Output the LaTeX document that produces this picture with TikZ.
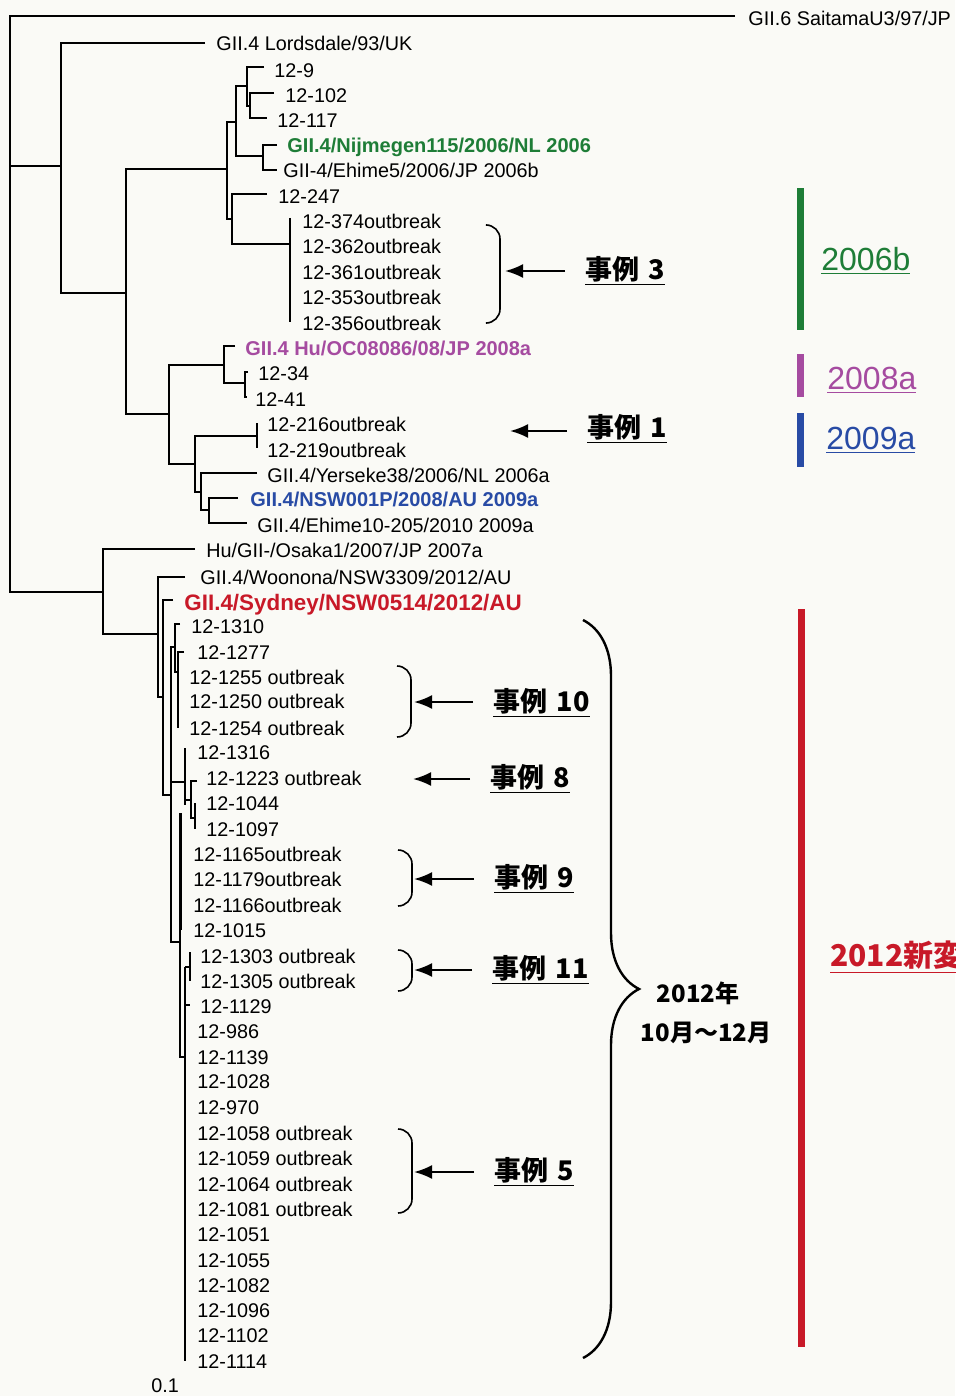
\documentclass[tikz,border=0pt]{standalone}
\usepackage{fontspec}
\setmainfont{Liberation Sans}
\newfontfamily\jpfont{Noto Sans CJK JP}
\usetikzlibrary{arrows.meta,decorations.pathreplacing}

\definecolor{paper}{RGB}{250,250,246}
\definecolor{cladegreen}{RGB}{30,125,55}
\definecolor{cladepurple}{RGB}{165,75,160}
\definecolor{cladeblue}{RGB}{40,75,165}
\definecolor{cladered}{RGB}{200,25,40}

\tikzset{
    leaf/.style = {anchor=west, inner sep=0pt, text height=7.1pt, text depth=0pt,
                   font=\fontsize{9.9}{11}\selectfont},
    refleaf/.style = {leaf, font=\fontsize{10}{11}\selectfont\bfseries},
    branch/.style = {line width=0.6pt},
    bracket/.style = {line width=0.8pt, rounded corners=7pt},
    casearrow/.style = {line width=1.1pt, shorten <=10pt, -{Latex[length=9pt,width=7pt]}},
    casetext/.style = {anchor=west, inner sep=0pt, font=\jpfont\fontsize{13.5}{16}\selectfont\bfseries},
    cladetext/.style = {anchor=west, inner sep=0pt, font=\fontsize{16}{18}\selectfont},
}

\begin{document}
\begin{tikzpicture}[x=0.5pt, y=-0.5pt]
    \fill[paper] (0,0) rectangle (955,1396);
    \useasboundingbox (0,0) rectangle (955,1396);

    % upper part of the tree
    \draw[branch] (735,16) -| (10,592) -- (103,592);
    \draw[branch] (10,166) -- (61,166);
    \draw[branch] (205,43) -| (61,293) -- (126,293);
    \draw[branch] (227,169) -| (126,414) -- (169,414);
    \draw[branch] (236,122) -| (227,219) -- (232,219);
    \draw[branch] (247,86) -| (236,156) -- (263,156);
    \draw[branch] (264,67) -| (247,106) -- (250,106);
    \draw[branch] (274,93) -| (250,118) -- (267,118);
    \draw[branch] (277,145) -| (263,170) -- (277,170);
    \draw[branch] (267,194) -| (232,244) -- (290,244);
    \draw[branch] (290,218) -- (290,322);
    \draw[branch] (224,365) -| (169,464) -- (195,464);
    \draw[branch] (235,346) -| (224,383) -- (245,383);
    \draw[branch] (248,372) -| (245,397) -- (247,397);
    \draw[branch] (257,436) -| (195,492) -- (201,492);
    \draw[branch] (257,423) -- (257,448);
    \draw[branch] (257,473) -| (201,510) -- (209,510);
    \draw[branch] (238,498) -| (209,523) -- (247,523);

    % 2012 part of the tree
    \draw[branch] (195,549) -| (103,634) -- (158,634);
    \draw[branch] (185,577) -| (158,697) -- (163,697);
    \draw[branch] (173,600) -| (163,795) -- (171,795);
    \draw[branch] (175,647) -| (171,942) -- (180,942);
    \draw[branch] (171,782) -- (185,782);
    \draw[branch] (180,624) -| (175,672) -- (178,672);
    \draw[branch] (184,652) -| (178,728);
    \draw[branch] (185,748) -- (185,805);
    \draw[branch] (185,800) -- (191,800);
    \draw[branch] (197,781) -| (191,818) -- (195,818);
    \draw[branch] (195,803) -- (195,829);
    \draw[branch] (180,813) -- (180,1057) -- (185,1057);
    \draw[line width=1.5pt] (180,813) -- (180,930);
    \draw[branch] (185,967) -- (185,1361);
    \draw[branch] (185,967) -- (190,967);
    \draw[branch] (190,952) -- (190,981);
    \draw[branch] (185,1005) -- (190,1005);

    % leaves
    \node[leaf] (sai) at (748,18) {GII.6 SaitamaU3/97/JP};
    \node[leaf] (lor) at (216,43) {GII.4 Lordsdale/93/UK};
    \node[leaf] (n9) at (274,70) {12-9};
    \node[leaf] (n102) at (285,95) {12-102};
    \node[leaf] (n117) at (277,120) {12-117};
    \node[refleaf, cladegreen] (nij) at (287,145) {GII.4/Nijmegen115/2006/NL 2006};
    \node[leaf] (eh5) at (283,170) {GII-4/Ehime5/2006/JP 2006b};
    \node[leaf] (n247) at (278,196) {12-247};
    \node[leaf] (n374) at (302,221) {12-374outbreak};
    \node[leaf] (n362) at (302,246) {12-362outbreak};
    \node[leaf] (n361) at (302,272) {12-361outbreak};
    \node[leaf] (n353) at (302,297) {12-353outbreak};
    \node[leaf] (n356) at (302,323) {12-356outbreak};
    \node[refleaf, cladepurple] (huoc) at (245,348) {GII.4 Hu/OC08086/08/JP 2008a};
    \node[leaf] (n34) at (258,373) {12-34};
    \node[leaf] (n41) at (255,399) {12-41};
    \node[leaf] (n216) at (267,424) {12-216outbreak};
    \node[leaf] (n219) at (267,450) {12-219outbreak};
    \node[leaf] (yer) at (267,475) {GII.4/Yerseke38/2006/NL 2006a};
    \node[refleaf, cladeblue] (nsw) at (250,499) {GII.4/NSW001P/2008/AU 2009a};
    \node[leaf] (eh10) at (257,525) {GII.4/Ehime10-205/2010 2009a};
    \node[leaf] (osa) at (206,550) {Hu/GII-/Osaka1/2007/JP 2007a};
    \node[leaf] (woo) at (200,577) {GII.4/Woonona/NSW3309/2012/AU};
    \node[refleaf, cladered, font=\fontsize{11.2}{13}\selectfont\bfseries] (syd) at (184,603) {GII.4/Sydney/NSW0514/2012/AU};
    \node[leaf] (n1310) at (191,626) {12-1310};
    \node[leaf] (n1277) at (197,652) {12-1277};
    \node[leaf] (n1255) at (189,677) {12-1255 outbreak};
    \node[leaf] (n1250) at (189,701) {12-1250 outbreak};
    \node[leaf] (n1254) at (189,728) {12-1254 outbreak};
    \node[leaf] (n1316) at (197,752) {12-1316};
    \node[leaf] (n1223) at (206,778) {12-1223 outbreak};
    \node[leaf] (n1044) at (206,803) {12-1044};
    \node[leaf] (n1097) at (206,829) {12-1097};
    \node[leaf] (n1165) at (193,854) {12-1165outbreak};
    \node[leaf] (n1179) at (193,879) {12-1179outbreak};
    \node[leaf] (n1166) at (193,905) {12-1166outbreak};
    \node[leaf] (n1015) at (193,930) {12-1015};
    \node[leaf] (n1303) at (200,956) {12-1303 outbreak};
    \node[leaf] (n1305) at (200,981) {12-1305 outbreak};
    \node[leaf] (n1129) at (200,1006) {12-1129};
    \foreach \n/\y in {986/1031, 1139/1057, 1028/1081, 970/1107}
        \node[leaf] (n\n) at (197,\y) {12-\n};
    \foreach \n/\y in {1058/1133, 1059/1158, 1064/1184, 1081/1209}
        \node[leaf] (n\n) at (197,\y) {12-\n{} outbreak};
    \foreach \n/\y in {1051/1234, 1055/1260, 1082/1285, 1096/1310, 1102/1335, 1114/1361}
        \node[leaf] (n\n) at (197,\y) {12-\n};
    \node[leaf] (scale) at (151,1385) {0.1};

    % outbreak brackets
    \draw[bracket] (487,225) -- (500,225) -- (500,323) -- (487,323);
    \draw[bracket] (397,666) -- (411,666) -- (411,737) -- (397,737);
    \draw[bracket] (398,850) -- (412,850) -- (412,906) -- (398,906);
    \draw[bracket] (398,950) -- (412,950) -- (412,991) -- (398,991);
    \draw[bracket] (398,1129) -- (412,1129) -- (412,1213) -- (398,1213);
    \coordinate (b3) at (505,271);
    \coordinate (b1) at (510,431);
    \coordinate (b10) at (414,702);
    \coordinate (b8) at (413,779);
    \coordinate (b9) at (414,879);
    \coordinate (b11) at (414,970);
    \coordinate (b5) at (414,1172);

    % outbreak cases
    \node[casetext] (c3) at (585,271) {\underline{事例\hspace{0.35em}3}};
    \node[casetext] (c1) at (587,429) {\underline{事例\hspace{0.35em}1}};
    \node[casetext] (c10) at (493,703) {\underline{事例\hspace{0.35em}10}};
    \node[casetext] (c8) at (490,779) {\underline{事例\hspace{0.35em}8}};
    \node[casetext] (c9) at (494,879) {\underline{事例\hspace{0.35em}9}};
    \node[casetext] (c11) at (492,970) {\underline{事例\hspace{0.35em}11}};
    \node[casetext] (c5) at (494,1172) {\underline{事例\hspace{0.35em}5}};
    \foreach \c in {3,1,10,8,9,11,5}
        \draw[casearrow] (b\c -| c\c.west) -- (b\c);

    % period brace
    \draw[line width=1.2pt, decorate, decoration={brace, amplitude=28pt}] (583,620) -- (583,1358);
    \node[font=\jpfont\fontsize{12}{14}\selectfont\bfseries] (yr) at (698,993) {2012年};
    \node[font=\jpfont\fontsize{12}{14}\selectfont\bfseries] (mon) at (706,1033) {10月〜12月};

    % genotype bars
    \fill[cladegreen] (797,188) rectangle (804,330);
    \fill[cladepurple] (797,354) rectangle (804,397);
    \fill[cladeblue] (797,413) rectangle (804,467);
    \fill[cladered] (798,609) rectangle (805,1347);
    \node[cladetext, cladegreen] (g06) at (821,261) {\underline{2006b}};
    \node[cladetext, cladepurple] (g08) at (827,380) {\underline{2008a}};
    \node[cladetext, cladeblue] (g09) at (826,440) {\underline{2009a}};
    \node[cladetext, cladered, font=\jpfont\fontsize{15}{18}\selectfont\bfseries] (g12) at (830,957) {\underline{2012新変}};
\end{tikzpicture}
\end{document}
